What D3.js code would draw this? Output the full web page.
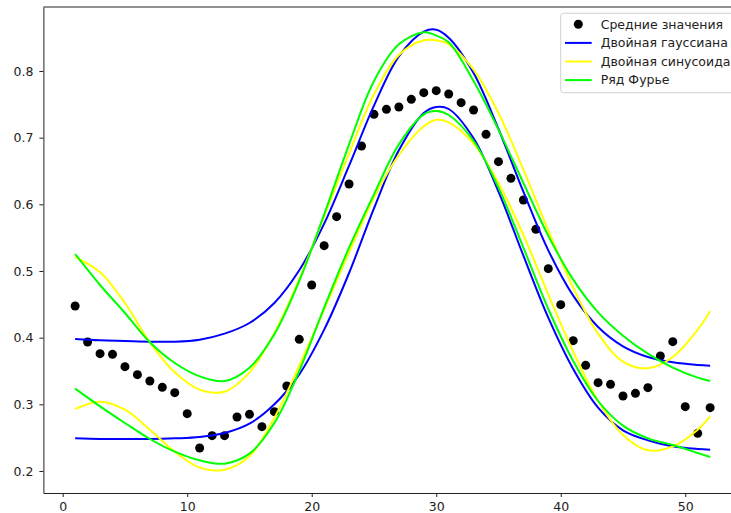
<!DOCTYPE html>
<html>
<head>
<meta charset="utf-8">
<script src="https://cdn.jsdelivr.net/npm/d3@7"></script>
<style>
	body {
		margin: 0;
		background: #fff;
	}
	svg {
		display: block;
		font-family: 'DejaVu Sans', sans-serif;
	}
</style>
</head>
<body>
	<div id="chart"></div>
	<script>
		// недели и средние значения
		var weeks = [1, 2, 3, 4, 5, 6, 7, 8, 9, 10, 11, 12, 13, 14, 15, 16, 17, 18, 19, 20, 21, 22, 23, 24, 25, 26,
			27, 28, 29, 30, 31, 32, 33, 34, 35, 36, 37, 38, 39, 40, 41, 42, 43, 44, 45, 46, 47, 48, 49, 50, 51, 52];
		var means = [0.4475, 0.3935, 0.376, 0.375, 0.3565, 0.3445, 0.335, 0.3255, 0.3175, 0.286, 0.2345, 0.253, 0.253,
			0.281, 0.285, 0.2665, 0.289, 0.3275, 0.3975, 0.479, 0.538, 0.5815, 0.6305, 0.6875, 0.735, 0.7425,
			0.746, 0.7575, 0.7675, 0.7705, 0.7655, 0.7525, 0.7415, 0.705, 0.664, 0.639, 0.6065, 0.5625, 0.5035,
			0.4495, 0.3955, 0.3585, 0.3325, 0.33, 0.3125, 0.3165, 0.325, 0.3725, 0.394, 0.2965, 0.2565, 0.295];

		// точки, по которым идут кривые аппроксимации
		var curveX = [1, 3, 5, 7, 9, 11, 13, 15, 17, 19, 21, 23, 25, 27, 29, 30, 31, 33, 35, 37, 39, 41, 43, 45, 47, 49, 51, 52];

		var gaussUpper = [0.398, 0.396, 0.395, 0.394, 0.394, 0.397, 0.406, 0.422, 0.452, 0.501, 0.571, 0.658, 0.748, 0.822,
			0.859, 0.862, 0.850, 0.797, 0.713, 0.619, 0.531, 0.463, 0.416, 0.387, 0.371, 0.363, 0.359, 0.358];
		var gaussLower = [0.249, 0.248, 0.248, 0.248, 0.249, 0.251, 0.257, 0.271, 0.300, 0.345, 0.412, 0.497, 0.594, 0.681,
			0.737, 0.746, 0.743, 0.699, 0.619, 0.523, 0.430, 0.353, 0.295, 0.261, 0.246, 0.237, 0.233, 0.232];

		var sinUpper = [0.521, 0.498, 0.452, 0.393, 0.348, 0.322, 0.319, 0.348, 0.407, 0.488, 0.582, 0.676, 0.765, 0.824,
			0.846, 0.846, 0.840, 0.802, 0.737, 0.652, 0.561, 0.475, 0.406, 0.364, 0.354, 0.371, 0.412, 0.440];
		var sinLower = [0.293, 0.304, 0.292, 0.262, 0.229, 0.205, 0.202, 0.222, 0.280, 0.358, 0.442, 0.528, 0.610, 0.674,
			0.717, 0.727, 0.723, 0.691, 0.632, 0.554, 0.465, 0.379, 0.305, 0.254, 0.231, 0.237, 0.262, 0.282];

		var fourierUpper = [0.5255, 0.479, 0.437, 0.393, 0.362, 0.342, 0.335, 0.355, 0.405, 0.485, 0.585, 0.690, 0.785, 0.840,
			0.858, 0.853, 0.843, 0.785, 0.712, 0.632, 0.553, 0.487, 0.438, 0.403, 0.376, 0.355, 0.340, 0.335];
		var fourierLower = [0.3235, 0.297, 0.272, 0.248, 0.229, 0.216, 0.211, 0.226, 0.272, 0.350, 0.445, 0.535, 0.615, 0.690,
			0.735, 0.740, 0.734, 0.695, 0.625, 0.535, 0.443, 0.365, 0.305, 0.268, 0.249, 0.239, 0.227, 0.221];

		var xTicks = [0, 10, 20, 30, 40, 50];
		var yTicks = [0.2, 0.3, 0.4, 0.5, 0.6, 0.7, 0.8];

		var legendLabels = ['Средние значения', 'Двойная гауссиана', 'Двойная синусоида', 'Ряд Фурье'];

		var series = [
			{ key: 'gauss', color: '#0000ff', lines: [gaussUpper, gaussLower] },
			{ key: 'sin', color: '#ffff00', lines: [sinUpper, sinLower] },
			{ key: 'fourier', color: '#00ff00', lines: [fourierUpper, fourierLower] }
		];

		var width = 731,
			height = 513,
			plotLeft = 43.4,
			plotRight = 741.9,
			plotTop = 7,
			plotBottom = 493;

		var svg = d3.select('#chart').append('svg')
			.attr('width', width)
			.attr('height', height);

		var x = d3.scaleLinear()
			.domain([-1.55, 54.55])
			.range([plotLeft, plotRight]);
		var y = d3.scaleLinear()
			.domain([0.167, 0.896])
			.range([plotBottom, plotTop]);

		svg.append('defs').append('clipPath')
			.attr('id', 'plotClip')
			.append('rect')
			.attr('x', plotLeft)
			.attr('y', plotTop)
			.attr('width', plotRight - plotLeft)
			.attr('height', plotBottom - plotTop);

		var plot = svg.append('g')
			.attr('clip-path', 'url(#plotClip)');

		// средние значения
		plot.append('g')
			.selectAll('circle')
			.data(means)
			.enter().append('circle')
			.attr('cx', (d, i) => x(weeks[i]))
			.attr('cy', d => y(d))
			.attr('r', 4.5)
			.attr('fill', '#000');

		var line = d3.line()
			.x((d, i) => x(curveX[i]))
			.y(d => y(d))
			.curve(d3.curveCatmullRom.alpha(0.5));

		series.forEach(s => {
			plot.append('g')
				.attr('class', 'fit ' + s.key)
				.selectAll('path')
				.data(s.lines)
				.enter().append('path')
				.attr('d', d => line(d))
				.attr('fill', 'none')
				.attr('stroke', s.color)
				.attr('stroke-width', 2);
		});

		// оси
		svg.append('g')
			.attr('transform', 'translate(0,' + plotBottom + ')')
			.call(d3.axisBottom(x).tickValues(xTicks).tickSize(4).tickPadding(5).tickSizeOuter(0))
			.call(g => {
				g.attr('font-family', null).attr('font-size', 12.5);
				g.selectAll('line, path').attr('stroke', '#222');
				g.selectAll('text').attr('fill', '#222');
			});
		svg.append('g')
			.attr('transform', 'translate(' + plotLeft + ',0)')
			.call(d3.axisLeft(y).tickValues(yTicks).tickFormat(d3.format('.1f')).tickSize(4).tickPadding(6).tickSizeOuter(0))
			.call(g => {
				g.attr('font-family', null).attr('font-size', 12.5);
				g.selectAll('line, path').attr('stroke', '#222');
				g.selectAll('text').attr('fill', '#222');
			});
		svg.append('line')
			.attr('x1', plotLeft)
			.attr('x2', plotRight)
			.attr('y1', plotTop)
			.attr('y2', plotTop)
			.attr('stroke', '#222');

		// легенда
		var legend = svg.append('g')
			.attr('transform', 'translate(560.7,13.3)');
		legend.append('rect')
			.attr('width', 200)
			.attr('height', 79.4)
			.attr('rx', 3)
			.attr('fill', '#fff')
			.attr('fill-opacity', 0.8)
			.attr('stroke', '#d0d0d0');

		var items = legend.selectAll('g.legendItems')
			.data(legendLabels)
			.enter().append('g')
			.attr('class', 'legendItems')
			.attr('transform', (d, i) => 'translate(0,' + (11 + i * 18.6) + ')');

		items.filter((d, i) => i == 0)
			.append('circle')
			.attr('cx', 17.6)
			.attr('r', 4.5)
			.attr('fill', '#000');
		items.filter((d, i) => i > 0)
			.append('line')
			.attr('x1', 4.3)
			.attr('x2', 31)
			.attr('stroke', (d, i) => series[i].color)
			.attr('stroke-width', 2);
		items.append('text')
			.text(d => d)
			.attr('x', 40)
			.attr('dy', '0.35em')
			.attr('font-size', 12.5)
			.attr('fill', '#222');
	</script>
</body>
</html>
